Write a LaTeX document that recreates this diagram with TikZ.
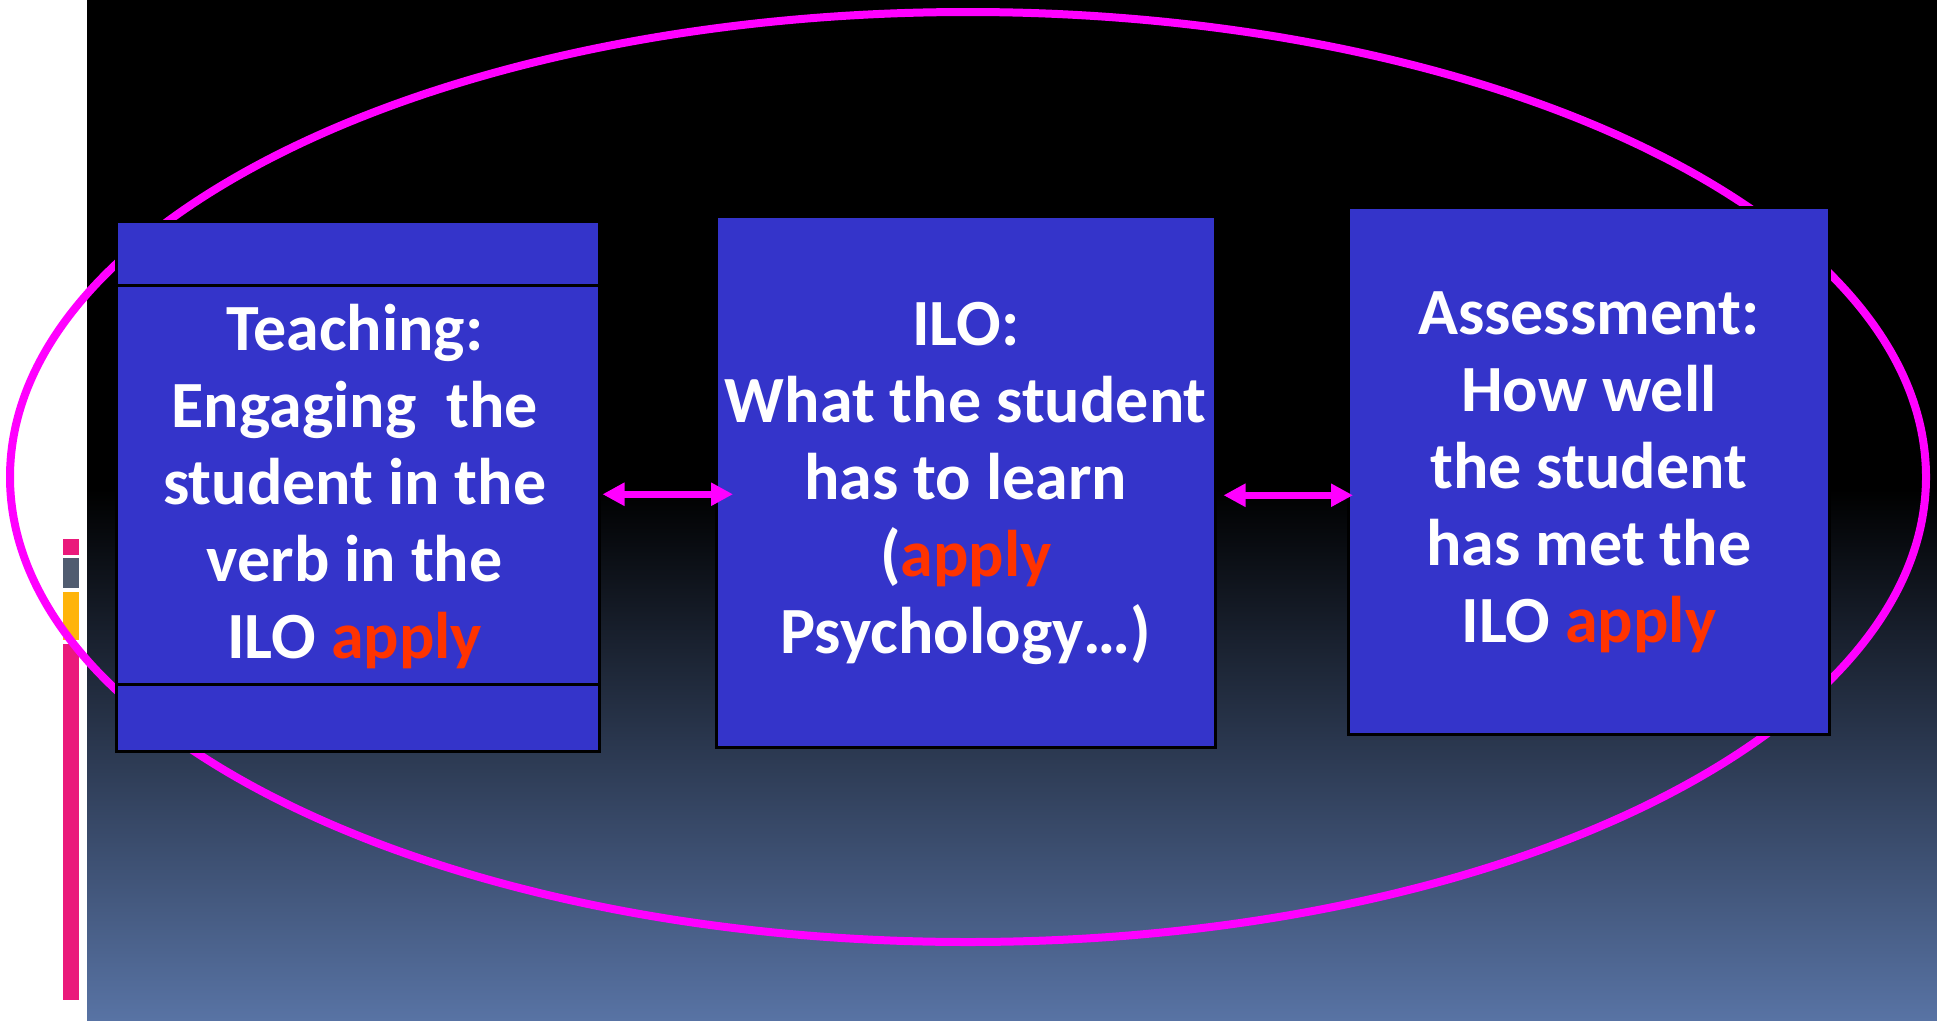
\documentclass[tikz,border=0pt]{standalone}
\usepackage{fontspec}
\setmainfont{Carlito}
\usetikzlibrary{arrows.meta}
\definecolor{boxblue}{HTML}{3434CA}
\definecolor{applyred}{HTML}{FF3300}
\definecolor{mag}{HTML}{FF00FF}
\definecolor{barpink}{HTML}{EA1A7B}
\definecolor{bargray}{HTML}{505C70}
\definecolor{baryellow}{HTML}{FFB40A}
\definecolor{bgbottom}{HTML}{5873A4}
\begin{document}
\begin{tikzpicture}[x=1pt,y=-1pt,
  bx/.style={draw=black, line width=2.5pt, fill=boxblue, inner sep=0pt, anchor=north west},
  txt/.style={text=white, font=\fontsize{66}{77}\selectfont\bfseries, align=center, inner sep=0pt},
  arr/.style={mag, line width=7pt, {Triangle[length=22pt,width=22pt]}-{Triangle[length=22pt,width=22pt]}},
  hl/.style={text=applyred}]
\useasboundingbox (0,0) rectangle (1937,1020);
% background
\fill[white] (0,0) rectangle (1937,1020);
\fill[black] (87,0) rectangle (1937,490);
\shade[top color=black, bottom color=bgbottom] (87,489) rectangle (1937,1020);
% side bars
\fill[barpink] (63,539) rectangle (79,555);
\fill[bargray] (63,558) rectangle (79,588);
\fill[baryellow] (63,592) rectangle (79,640);
\fill[barpink] (63,644) rectangle (79,1000);
% ellipse
\draw[mag, line width=8pt] (968,477) ellipse [x radius=958pt, y radius=465pt];
% boxes
\node[bx, minimum width=483pt, minimum height=64pt] (ttop) at (115,220) {};
\node[bx, minimum width=483pt, minimum height=399pt] (tmain) at (115,284) {};
\node[bx, minimum width=483pt, minimum height=67pt] (tbot) at (115,683) {};
\node[bx, minimum width=499pt, minimum height=531pt] (ilo) at (715,215) {};
\node[bx, minimum width=481pt, minimum height=527pt] (ass) at (1347,206) {};
% texts
\node[txt] (ttext) at ([xshift=-3pt,yshift=-2pt]tmain.center) {Teaching:\\Engaging\ \ the\\student in the\\verb in the\\ILO \textcolor{applyred}{apply}};
\node[txt] (itext) at ([yshift=-2pt]ilo.center) {ILO:\\What the student\\has to learn\\(\textcolor{applyred}{apply}\\Psychology…)};
\node[txt] (atext) at ([yshift=-2pt]ass.center) {Assessment:\\How well\\the student\\has met the\\ILO \textcolor{applyred}{apply}};
% arrows
\draw[arr] ([xshift=2pt,yshift=-9.5pt]tmain.east) -- ([xshift=18pt,yshift=-9.5pt]tmain.east -| ilo.west);
\draw[arr] ([xshift=7pt,yshift=-13.5pt]ilo.east) -- ([xshift=6pt,yshift=-13.5pt]ilo.east -| ass.west);
\end{tikzpicture}
\end{document}
